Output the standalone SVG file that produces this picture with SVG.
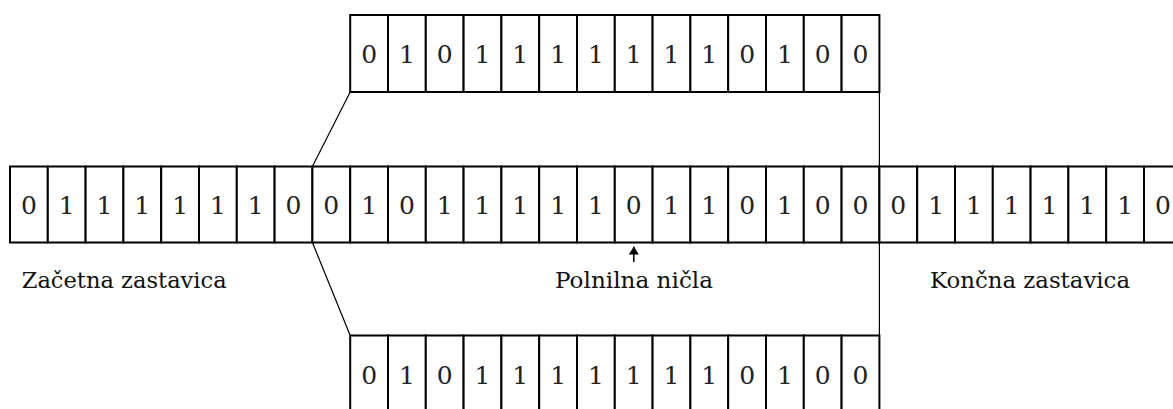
<svg xmlns="http://www.w3.org/2000/svg" width="1173" height="409" viewBox="0 0 1173 409">
<style>
.c rect{fill:#fff;stroke:#000;stroke-width:2}
.c text{font-size:25px;fill:#222;text-anchor:middle}
.lbl{font-size:23px;fill:#111}
.conn line{stroke:#000;stroke-width:1.2;fill:none}
</style>
<defs>
<marker id="ah" viewBox="0 0 8 10" refX="8" refY="5" markerWidth="8" markerHeight="10" markerUnits="userSpaceOnUse" orient="auto">
<path d="M0,0 L8,5 L0,10 z" fill="#000"/>
</marker>
</defs>
<rect width="1173" height="409" fill="#fff"/>
<g id="connectors" class="conn">
<line x1="350.2" y1="92" x2="312.4" y2="166.5"/>
<line x1="312.4" y1="242.5" x2="350.2" y2="335.5"/>
<line x1="879.4" y1="92" x2="879.4" y2="166.5"/>
<line x1="879.4" y1="242.5" x2="879.4" y2="335.5"/>
<line x1="633.8" y1="262" x2="633.8" y2="246.5" marker-end="url(#ah)" style="stroke-width:1.5"/>
</g>
<g font-family="'DejaVu Serif', serif">
<g id="row-middle" class="c">
<g id="m0"><rect x="10" y="166.5" width="37.8" height="76"/><text x="28.9" y="213.5">0</text></g>
<g id="m1"><rect x="47.8" y="166.5" width="37.8" height="76"/><text x="66.7" y="213.5">1</text></g>
<g id="m2"><rect x="85.6" y="166.5" width="37.8" height="76"/><text x="104.5" y="213.5">1</text></g>
<g id="m3"><rect x="123.4" y="166.5" width="37.8" height="76"/><text x="142.3" y="213.5">1</text></g>
<g id="m4"><rect x="161.2" y="166.5" width="37.8" height="76"/><text x="180.1" y="213.5">1</text></g>
<g id="m5"><rect x="199" y="166.5" width="37.8" height="76"/><text x="217.9" y="213.5">1</text></g>
<g id="m6"><rect x="236.8" y="166.5" width="37.8" height="76"/><text x="255.7" y="213.5">1</text></g>
<g id="m7"><rect x="274.6" y="166.5" width="37.8" height="76"/><text x="293.5" y="213.5">0</text></g>
<g id="m8"><rect x="312.4" y="166.5" width="37.8" height="76"/><text x="331.3" y="213.5">0</text></g>
<g id="m9"><rect x="350.2" y="166.5" width="37.8" height="76"/><text x="369.1" y="213.5">1</text></g>
<g id="m10"><rect x="388" y="166.5" width="37.8" height="76"/><text x="406.9" y="213.5">0</text></g>
<g id="m11"><rect x="425.8" y="166.5" width="37.8" height="76"/><text x="444.7" y="213.5">1</text></g>
<g id="m12"><rect x="463.6" y="166.5" width="37.8" height="76"/><text x="482.5" y="213.5">1</text></g>
<g id="m13"><rect x="501.4" y="166.5" width="37.8" height="76"/><text x="520.3" y="213.5">1</text></g>
<g id="m14"><rect x="539.2" y="166.5" width="37.8" height="76"/><text x="558.1" y="213.5">1</text></g>
<g id="m15"><rect x="577" y="166.5" width="37.8" height="76"/><text x="595.9" y="213.5">1</text></g>
<g id="m16"><rect x="614.8" y="166.5" width="37.8" height="76"/><text x="633.7" y="213.5">0</text></g>
<g id="m17"><rect x="652.6" y="166.5" width="37.8" height="76"/><text x="671.5" y="213.5">1</text></g>
<g id="m18"><rect x="690.4" y="166.5" width="37.8" height="76"/><text x="709.3" y="213.5">1</text></g>
<g id="m19"><rect x="728.2" y="166.5" width="37.8" height="76"/><text x="747.1" y="213.5">0</text></g>
<g id="m20"><rect x="766" y="166.5" width="37.8" height="76"/><text x="784.9" y="213.5">1</text></g>
<g id="m21"><rect x="803.8" y="166.5" width="37.8" height="76"/><text x="822.7" y="213.5">0</text></g>
<g id="m22"><rect x="841.6" y="166.5" width="37.8" height="76"/><text x="860.5" y="213.5">0</text></g>
<g id="m23"><rect x="879.4" y="166.5" width="37.8" height="76"/><text x="898.3" y="213.5">0</text></g>
<g id="m24"><rect x="917.2" y="166.5" width="37.8" height="76"/><text x="936.1" y="213.5">1</text></g>
<g id="m25"><rect x="955" y="166.5" width="37.8" height="76"/><text x="973.9" y="213.5">1</text></g>
<g id="m26"><rect x="992.8" y="166.5" width="37.8" height="76"/><text x="1011.7" y="213.5">1</text></g>
<g id="m27"><rect x="1030.6" y="166.5" width="37.8" height="76"/><text x="1049.5" y="213.5">1</text></g>
<g id="m28"><rect x="1068.4" y="166.5" width="37.8" height="76"/><text x="1087.3" y="213.5">1</text></g>
<g id="m29"><rect x="1106.2" y="166.5" width="37.8" height="76"/><text x="1125.1" y="213.5">1</text></g>
<g id="m30"><rect x="1144" y="166.5" width="37.8" height="76"/><text x="1162.9" y="213.5">0</text></g>
</g>
<g id="row-top" class="c">
<g id="t0"><rect x="350.2" y="15" width="37.8" height="77"/><text x="369.1" y="63">0</text></g>
<g id="t1"><rect x="388" y="15" width="37.8" height="77"/><text x="406.9" y="63">1</text></g>
<g id="t2"><rect x="425.8" y="15" width="37.8" height="77"/><text x="444.7" y="63">0</text></g>
<g id="t3"><rect x="463.6" y="15" width="37.8" height="77"/><text x="482.5" y="63">1</text></g>
<g id="t4"><rect x="501.4" y="15" width="37.8" height="77"/><text x="520.3" y="63">1</text></g>
<g id="t5"><rect x="539.2" y="15" width="37.8" height="77"/><text x="558.1" y="63">1</text></g>
<g id="t6"><rect x="577" y="15" width="37.8" height="77"/><text x="595.9" y="63">1</text></g>
<g id="t7"><rect x="614.8" y="15" width="37.8" height="77"/><text x="633.7" y="63">1</text></g>
<g id="t8"><rect x="652.6" y="15" width="37.8" height="77"/><text x="671.5" y="63">1</text></g>
<g id="t9"><rect x="690.4" y="15" width="37.8" height="77"/><text x="709.3" y="63">1</text></g>
<g id="t10"><rect x="728.2" y="15" width="37.8" height="77"/><text x="747.1" y="63">0</text></g>
<g id="t11"><rect x="766" y="15" width="37.8" height="77"/><text x="784.9" y="63">1</text></g>
<g id="t12"><rect x="803.8" y="15" width="37.8" height="77"/><text x="822.7" y="63">0</text></g>
<g id="t13"><rect x="841.6" y="15" width="37.8" height="77"/><text x="860.5" y="63">0</text></g>
</g>
<g id="row-bottom" class="c">
<g id="b0"><rect x="350.2" y="335.5" width="37.8" height="77"/><text x="369.1" y="383.5">0</text></g>
<g id="b1"><rect x="388" y="335.5" width="37.8" height="77"/><text x="406.9" y="383.5">1</text></g>
<g id="b2"><rect x="425.8" y="335.5" width="37.8" height="77"/><text x="444.7" y="383.5">0</text></g>
<g id="b3"><rect x="463.6" y="335.5" width="37.8" height="77"/><text x="482.5" y="383.5">1</text></g>
<g id="b4"><rect x="501.4" y="335.5" width="37.8" height="77"/><text x="520.3" y="383.5">1</text></g>
<g id="b5"><rect x="539.2" y="335.5" width="37.8" height="77"/><text x="558.1" y="383.5">1</text></g>
<g id="b6"><rect x="577" y="335.5" width="37.8" height="77"/><text x="595.9" y="383.5">1</text></g>
<g id="b7"><rect x="614.8" y="335.5" width="37.8" height="77"/><text x="633.7" y="383.5">1</text></g>
<g id="b8"><rect x="652.6" y="335.5" width="37.8" height="77"/><text x="671.5" y="383.5">1</text></g>
<g id="b9"><rect x="690.4" y="335.5" width="37.8" height="77"/><text x="709.3" y="383.5">1</text></g>
<g id="b10"><rect x="728.2" y="335.5" width="37.8" height="77"/><text x="747.1" y="383.5">0</text></g>
<g id="b11"><rect x="766" y="335.5" width="37.8" height="77"/><text x="784.9" y="383.5">1</text></g>
<g id="b12"><rect x="803.8" y="335.5" width="37.8" height="77"/><text x="822.7" y="383.5">0</text></g>
<g id="b13"><rect x="841.6" y="335.5" width="37.8" height="77"/><text x="860.5" y="383.5">0</text></g>
</g>
<g id="labels">
<text class="lbl" x="21.7" y="288" textLength="205" lengthAdjust="spacingAndGlyphs">Začetna zastavica</text>
<text class="lbl" x="555" y="288" textLength="158" lengthAdjust="spacingAndGlyphs">Polnilna ničla</text>
<text class="lbl" x="930" y="288" textLength="200" lengthAdjust="spacingAndGlyphs">Končna zastavica</text>
</g>
</g>
</svg>
